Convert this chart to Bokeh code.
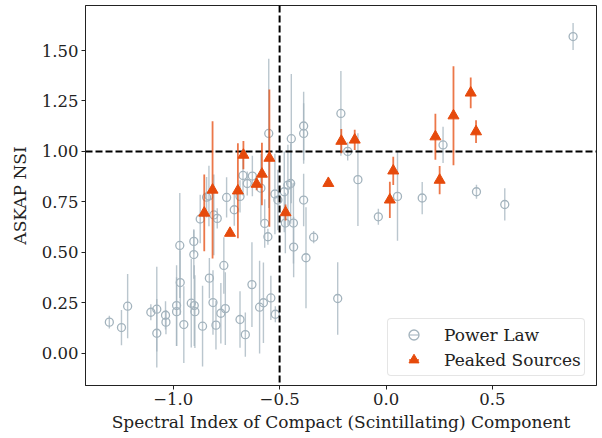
import math
from bokeh.plotting import figure
from bokeh.models import (Range1d, FixedTicker, CustomJSTickFormatter, Span,
                          Legend, LegendItem, ColumnDataSource)
from bokeh.embed import file_html
from bokeh.resources import INLINE

# ---- data: Power Law sources (x = spectral index, y = ASKAP NSI, err = 1-sigma) ----
pl_x = [-1.300, -1.243, -1.214, -1.105, -1.077, -1.077, -1.036, -1.034, -0.984, -0.984,
        -0.969, -0.967, -0.950, -0.915, -0.903, -0.903, -0.901, -0.898, -0.862, -0.873,
        -0.830, -0.813, -0.832, -0.809, -0.793, -0.799, -0.776, -0.755, -0.762, -0.749,
        -0.713, -0.686, -0.661, -0.686, -0.672, -0.652, -0.628, -0.630, -0.594, -0.576,
        -0.588, -0.570, -0.555, -0.541, -0.520, -0.522, -0.508, -0.551, -0.478, -0.461,
        -0.448, -0.473, -0.435, -0.445, -0.387, -0.387, -0.387, -0.434, -0.340, -0.376,
        -0.212, -0.180, -0.132, -0.036, 0.054, 0.170, 0.268, 0.425, 0.558, 0.879,
        -0.227, -0.843]
pl_y = [0.154, 0.127, 0.233, 0.203, 0.218, 0.099, 0.188, 0.154, 0.236, 0.206,
        0.534, 0.350, 0.142, 0.248, 0.554, 0.489, 0.236, 0.206, 0.134, 0.665,
        0.372, 0.251, 0.779, 0.685, 0.668, 0.139, 0.198, 0.221, 0.435, 0.772,
        0.711, 0.167, 0.092, 0.777, 0.881, 0.841, 0.878, 0.340, 0.228, 0.250,
        0.818, 0.643, 0.577, 0.274, 0.193, 0.789, 0.759, 1.089, 0.800, 0.833,
        0.841, 0.645, 0.645, 1.063, 1.126, 1.089, 0.759, 0.526, 0.575, 0.473,
        1.188, 1.000, 0.860, 0.676, 0.777, 0.769, 1.032, 0.800, 0.737, 1.569,
        0.271, 0.773]
pl_err = [0.032, 0.087, 0.159, 0.040, 0.210, 0.170, 0.070, 0.060, 0.200, 0.170,
          0.260, 0.160, 0.190, 0.220, 0.060, 0.120, 0.200, 0.180, 0.200, 0.120,
          0.100, 0.160, 0.150, 0.200, 0.050, 0.120, 0.150, 0.180, 0.140, 0.100,
          0.080, 0.140, 0.110, 0.080, 0.100, 0.060, 0.100, 0.210, 0.230, 0.200,
          0.170, 0.120, 0.040, 0.110, 0.040, 0.200, 0.150, 0.370, 0.200, 0.200,
          0.200, 0.150, 0.200, 0.320, 0.170, 0.150, 0.130, 0.150, 0.030, 0.250,
          0.210, 0.045, 0.230, 0.040, 0.220, 0.080, 0.090, 0.035, 0.080, 0.067,
          0.180, 0.100]

# ---- data: Peaked sources ----
pk_x = [-0.854, -0.815, -0.733, -0.696, -0.670, -0.608, -0.583, -0.548, -0.472, -0.271,
        -0.210, -0.147, 0.018, 0.034, 0.232, 0.252, 0.317, 0.398, 0.423]
pk_y = [0.695, 0.809, 0.595, 0.805, 0.982, 0.838, 0.888, 0.967, 0.697, 0.842,
        1.051, 1.057, 0.760, 0.904, 1.073, 0.858, 1.177, 1.290, 1.098]
pk_err = [0.190, 0.340, 0.010, 0.235, 0.070, 0.030, 0.155, 0.340, 0.040, 0.000,
          0.060, 0.050, 0.090, 0.070, 0.114, 0.070, 0.245, 0.076, 0.056]

x_ticks = [-1.0, -0.5, 0.0, 0.5]
y_ticks = [0.0, 0.25, 0.5, 0.75, 1.0, 1.25, 1.5]
x_label = "Spectral Index of Compact (Scintillating) Component"
y_label = "ASKAP NSI"
series_labels = ["Power Law", "Peaked Sources"]

GRAY = "#a3b3bd"
ORANGE = "#e64a0c"
FONT = "DejaVu Serif"

p = figure(width=602, height=438, output_backend="svg", toolbar_location=None,
           x_range=Range1d(-1.412, 0.989), y_range=Range1d(-0.160, 1.723),
           min_border_left=85, min_border_right=6, min_border_top=5, min_border_bottom=53)
p.background_fill_color = "white"
p.border_fill_color = "white"
p.grid.visible = False
p.outline_line_color = "#222222"
p.outline_line_width = 1
p.outline_line_alpha = 1

for ax in (p.xaxis[0], p.yaxis[0]):
    ax.axis_line_color = "#222222"
    ax.major_tick_line_color = "#222222"
    ax.major_tick_in = 0
    ax.major_tick_out = 4
    ax.minor_tick_line_color = None
    ax.major_label_text_font = FONT
    ax.major_label_text_font_size = "16.5px"
    ax.major_label_text_color = "#222222"
    ax.axis_label_text_font = FONT
    ax.axis_label_text_font_size = "17px"
    ax.axis_label_text_font_style = "normal"
    ax.axis_label_text_color = "#222222"
    ax.major_label_standoff = 3

p.xaxis[0].ticker = FixedTicker(ticks=x_ticks)
p.yaxis[0].ticker = FixedTicker(ticks=y_ticks)
p.xaxis[0].formatter = CustomJSTickFormatter(
    code="return (tick < 0 ? '\u2212' : '') + Math.abs(tick).toFixed(1);")
p.yaxis[0].formatter = CustomJSTickFormatter(
    code="return (tick < 0 ? '\u2212' : '') + Math.abs(tick).toFixed(2);")
p.xaxis[0].axis_label = x_label
p.yaxis[0].axis_label = y_label
p.xaxis[0].axis_label_standoff = 4
p.yaxis[0].axis_label_standoff = 9

pl_src = ColumnDataSource(dict(x=pl_x, y=pl_y,
                               lo=[y - e for y, e in zip(pl_y, pl_err)],
                               hi=[y + e for y, e in zip(pl_y, pl_err)]))
pk_src = ColumnDataSource(dict(x=pk_x, y=pk_y,
                               lo=[y - e for y, e in zip(pk_y, pk_err)],
                               hi=[y + e for y, e in zip(pk_y, pk_err)]))

pl_bars = p.segment(x0="x", y0="lo", x1="x", y1="hi", source=pl_src,
                    line_color=GRAY, line_alpha=0.75, line_width=1.4)
pl_pts = p.scatter(x="x", y="y", source=pl_src, marker="circle", size=8,
                   fill_color=None, line_color=GRAY, line_width=1.3)

vspan = Span(location=-0.5, dimension="height", line_color="black",
             line_width=2, line_dash="7 3", level="glyph")
hspan = Span(location=1.0, dimension="width", line_color="black",
             line_width=2, line_dash="7 3", level="glyph")
p.renderers.append(vspan)
p.renderers.append(hspan)

pk_bars = p.segment(x0="x", y0="lo", x1="x", y1="hi", source=pk_src,
                    line_color=ORANGE, line_alpha=0.75, line_width=1.8)
pk_pts = p.scatter(x="x", y="y", source=pk_src, marker="triangle", size=11,
                   fill_color=ORANGE, line_color=ORANGE, line_width=1)

# legend-only vertical error-bar glyphs (not visible in the plot area)
nan = float("nan")
leg_pl_bar = p.scatter(x=[nan], y=[nan], marker="dash", angle=math.pi / 2, size=10,
                       line_color=GRAY, line_alpha=0.75, line_width=1.4)
leg_pk_bar = p.scatter(x=[nan], y=[nan], marker="dash", angle=math.pi / 2, size=10,
                       line_color=ORANGE, line_alpha=0.75, line_width=1.8)

legend = Legend(items=[
    LegendItem(label=series_labels[0], renderers=[leg_pl_bar, pl_pts], index=0),
    LegendItem(label=series_labels[1], renderers=[leg_pk_bar, pk_pts], index=0),
], location=(302, 9))
legend.label_text_font = FONT
legend.label_text_font_size = "17px"
legend.label_text_color = "#222222"
legend.glyph_width = 45
legend.glyph_height = 25
legend.label_height = 25
legend.spacing = 0
legend.padding = 3
legend.label_standoff = 8
legend.border_line_color = "#cccccc"
legend.border_line_width = 1
legend.background_fill_color = "white"
legend.background_fill_alpha = 0.8
if "border_radius" in legend.properties():
    legend.border_radius = 4
p.add_layout(legend, "center")

open("out.html", "w").write(file_html(p, INLINE))
